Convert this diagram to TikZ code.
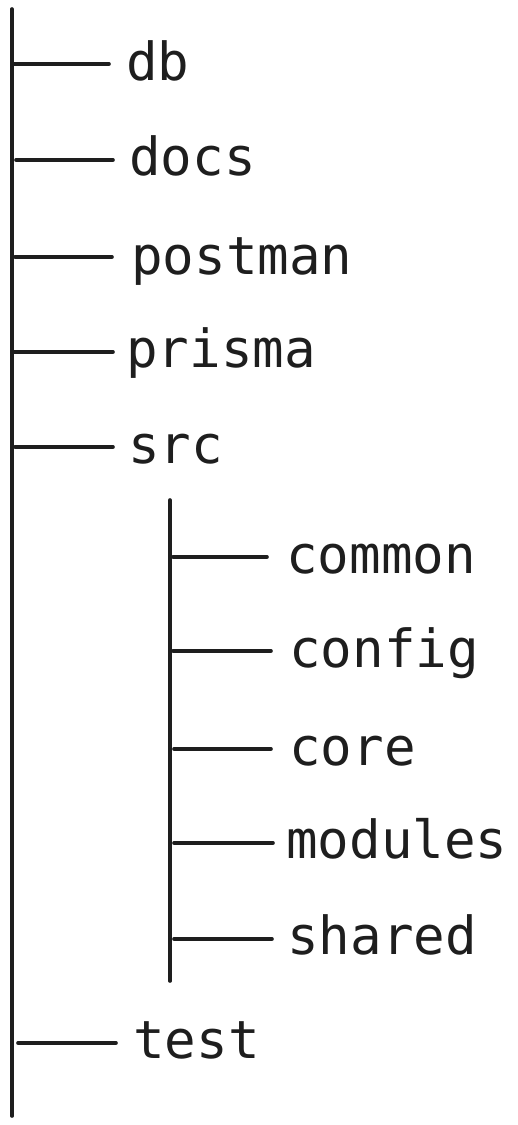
\documentclass[tikz,border=0pt]{standalone}
\usepackage{fontspec}
\setmonofont{DejaVu Sans Mono}
\definecolor{ink}{HTML}{1E1E1E}
\begin{document}
\begin{tikzpicture}[x=1pt,y=-1pt]
\tikzstyle{every node}+=[inner sep=0pt]
\tikzstyle{dir}=[font=\ttfamily\fontsize{52.5}{52.5}\selectfont, text=ink, anchor=base west]
\tikzstyle{twig}=[draw=ink, line width=3.6pt, line cap=round]
\useasboundingbox (0,0) rectangle (518,1125);
% trunks
\coordinate (top) at (12,9);
\coordinate (bot) at (12,1116);
\draw [twig] (top) -- (bot);
\coordinate (subtop) at (170,500);
\coordinate (subbot) at (170,981);
\draw [twig] (subtop) -- (subbot);
% top level folders
\node [dir] (db) at (126,80) {db};
\node [dir] (docs) at (129,175) {docs};
\node [dir] (postman) at (131,274) {postman};
\node [dir] (prisma) at (126,367) {prisma};
\node [dir] (src) at (128,463) {src};
\node [dir] (test) at (133,1058) {test};
\coordinate (db-l) at (14,64);
\coordinate (docs-l) at (16,160);
\coordinate (postman-l) at (15,257);
\coordinate (prisma-l) at (14,352);
\coordinate (src-l) at (15,447);
\coordinate (test-l) at (18,1043);
\draw [twig, shorten >=17pt] (db-l) -- (db-l -| db.west);
\draw [twig, shorten >=16pt] (docs-l) -- (docs-l -| docs.west);
\draw [twig, shorten >=19pt] (postman-l) -- (postman-l -| postman.west);
\draw [twig, shorten >=13pt] (prisma-l) -- (prisma-l -| prisma.west);
\draw [twig, shorten >=15pt] (src-l) -- (src-l -| src.west);
\draw [twig, shorten >=17pt] (test-l) -- (test-l -| test.west);
% inside src
\node [dir] (common) at (286,573) {common};
\node [dir] (config) at (289,667) {config};
\node [dir] (core) at (289,765) {core};
\node [dir] (modules) at (286,858) {modules};
\node [dir] (shared) at (287,954) {shared};
\coordinate (common-l) at (173,557);
\coordinate (config-l) at (173,651);
\coordinate (core-l) at (174,749);
\coordinate (modules-l) at (174,843);
\coordinate (shared-l) at (174,939);
\draw [twig, shorten >=19pt] (common-l) -- (common-l -| common.west);
\draw [twig, shorten >=18pt] (config-l) -- (config-l -| config.west);
\draw [twig, shorten >=18pt] (core-l) -- (core-l -| core.west);
\draw [twig, shorten >=13pt] (modules-l) -- (modules-l -| modules.west);
\draw [twig, shorten >=15pt] (shared-l) -- (shared-l -| shared.west);
\end{tikzpicture}
\end{document}
